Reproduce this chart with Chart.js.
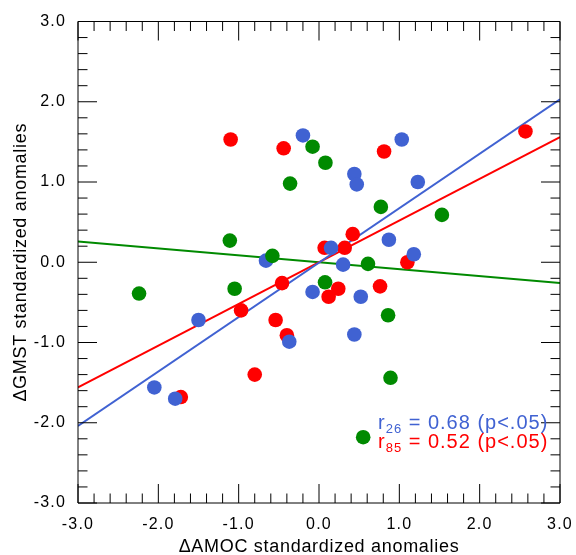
<!DOCTYPE html>
<html>
<head>
<meta charset="utf-8">
<script src="https://cdn.jsdelivr.net/npm/chart.js@4/dist/chart.umd.min.js"></script>
<style>
html,body{margin:0;padding:0;background:#fff;}
canvas{display:block;}
</style>
</head>
<body>
<canvas id="c" width="576" height="555"></canvas>
<script>
// ---- data ----
const blueX  = [-0.20, 1.03, 0.44, 0.47, 1.23, 0.87, 1.18, 0.15, 0.30, -0.08, 0.52, 0.44, -0.66, -1.50, -0.37, -2.05, -1.79];
const blueY  = [ 1.58, 1.53, 1.10, 0.97, 1.00, 0.28, 0.10, 0.18, -0.03, -0.37, -0.43, -0.90, 0.02, -0.72, -0.99, -1.56, -1.70];
const redX   = [-1.10, -0.44, 0.81, 2.57, 0.42, 0.07, 0.32, 1.10, 0.24, 0.12, 0.76, -0.46, -0.97, -0.54, -0.40, -0.80, -1.72];
const redY   = [ 1.53, 1.42, 1.38, 1.63, 0.35, 0.18, 0.18, 0.00, -0.33, -0.43, -0.30, -0.26, -0.60, -0.72, -0.91, -1.40, -1.68];
const greenX = [-0.08, -0.36, 0.08, -1.11, -0.58, 0.77, 1.53, 0.61, 0.075, 0.86, 0.89, 0.55, -2.24, -1.05];
const greenY = [ 1.44, 0.98, 1.24, 0.27, 0.08, 0.69, 0.59, -0.02, -0.25, -0.66, -1.44, -2.18, -0.39, -0.33];
const fitX     = [-3, 3];
const fitBlue  = [-2.04, 2.03];
const fitRed   = [-1.56, 1.56];
const fitGreen = [0.26, -0.26];
const tickValues = [-3, -2, -1, 0, 1, 2, 3];
const statBlue = {sub: '26', text: ' = 0.68 (p<.05)'};
const statRed  = {sub: '85', text: ' = 0.52 (p<.05)'};
const xTitle = '\u0394AMOC standardized anomalies';
const yTitle = '\u0394GMST standardized anomalies';

const BLUE = 'rgb(64,98,210)';
const RED = 'rgb(255,0,0)';
const GREEN = 'rgb(0,138,0)';
const FONT = '"Liberation Sans", Arial, sans-serif';

const pts = (xs, ys) => xs.map((x, i) => ({x: x, y: ys[i]}));

const framePlugin = {
  id: 'frame',
  beforeDraw(chart) {
    chart.ctx.letterSpacing = '1.2px';
  },
  afterDraw(chart) {
    const {ctx, chartArea: a, scales: {x, y}} = chart;
    ctx.save();
    ctx.strokeStyle = '#000';
    ctx.lineWidth = 1;
    ctx.beginPath();
    ctx.rect(a.left, a.top, a.right - a.left, a.bottom - a.top);
    ctx.stroke();
    // ticks: major every 1, minor every 0.2, inside on all four sides
    for (let k = -15; k <= 15; k++) {
      const v = k / 5;
      const major = (k % 5 === 0);
      const len = major ? 19 : 9.5;
      const px = x.getPixelForValue(v);
      const py = y.getPixelForValue(v);
      ctx.beginPath();
      ctx.moveTo(px, a.bottom); ctx.lineTo(px, a.bottom - len);
      ctx.moveTo(px, a.top); ctx.lineTo(px, a.top + len);
      ctx.moveTo(a.left, py); ctx.lineTo(a.left + len, py);
      ctx.moveTo(a.right, py); ctx.lineTo(a.right - len, py);
      ctx.stroke();
    }
    // axis titles
    ctx.fillStyle = '#000';
    ctx.font = '18px ' + FONT;
    ctx.letterSpacing = '0.7px';
    ctx.textAlign = 'center';
    ctx.textBaseline = 'alphabetic';
    ctx.fillText(xTitle, (a.left + a.right) / 2, 552);
    ctx.save();
    ctx.translate(26, (a.top + a.bottom) / 2);
    ctx.rotate(-Math.PI / 2);
    ctx.fillText(yTitle, 0, 0);
    ctx.restore();
    // stats
    ctx.letterSpacing = '1px';
    const drawStat = (s, color, base) => {
      ctx.fillStyle = color;
      ctx.textAlign = 'left';
      let cx = 378;
      ctx.font = '20px ' + FONT;
      ctx.fillText('r', cx, base);
      cx += ctx.measureText('r').width;
      ctx.font = '13px ' + FONT;
      ctx.fillText(s.sub, cx, base + 4);
      cx += ctx.measureText(s.sub).width;
      ctx.font = '20px ' + FONT;
      ctx.fillText(s.text, cx, base);
    };
    drawStat(statBlue, BLUE, 428.5);
    drawStat(statRed, RED, 448.3);
    ctx.restore();
  }
};

const tickOpts = {
  stepSize: 1,
  autoSkip: false,
  maxRotation: 0,
  color: '#000',
  font: {size: 16, family: FONT},
  callback: v => Number(v).toFixed(1)
};

new Chart(document.getElementById('c'), {
  type: 'scatter',
  data: {
    datasets: [
      {type: 'line', data: pts(fitX, fitBlue), borderColor: BLUE, borderWidth: 2, pointRadius: 0, fill: false, order: 10},
      {type: 'line', data: pts(fitX, fitRed), borderColor: RED, borderWidth: 2, pointRadius: 0, fill: false, order: 11},
      {type: 'line', data: pts(fitX, fitGreen), borderColor: GREEN, borderWidth: 2, pointRadius: 0, fill: false, order: 12},
      {data: pts(redX, redY), backgroundColor: RED, borderWidth: 0, pointRadius: 7.3, order: 3},
      {data: pts(blueX, blueY), backgroundColor: BLUE, borderWidth: 0, pointRadius: 7.3, order: 2},
      {data: pts(greenX, greenY), backgroundColor: GREEN, borderWidth: 0, pointRadius: 7.3, order: 1}
    ]
  },
  options: {
    responsive: false,
    animation: false,
    devicePixelRatio: 1,
    layout: {padding: {top: 21.5, right: 16, left: 0, bottom: 0}},
    plugins: {legend: {display: false}, tooltip: {enabled: false}},
    scales: {
      x: {
        type: 'linear', min: -3, max: 3, position: 'bottom',
        grid: {display: false}, border: {display: false},
        ticks: Object.assign({padding: 4}, tickOpts),
        afterBuildTicks: s => { s.ticks = tickValues.map(v => ({value: v})); },
        afterFit: s => { s.height = 52; }
      },
      y: {
        type: 'linear', min: -3, max: 3, position: 'left',
        grid: {display: false}, border: {display: false},
        ticks: Object.assign({padding: 4}, tickOpts),
        afterBuildTicks: s => { s.ticks = tickValues.map(v => ({value: v})); },
        afterFit: s => { s.width = 78; }
      }
    }
  },
  plugins: [framePlugin]
});
</script>
</body>
</html>
